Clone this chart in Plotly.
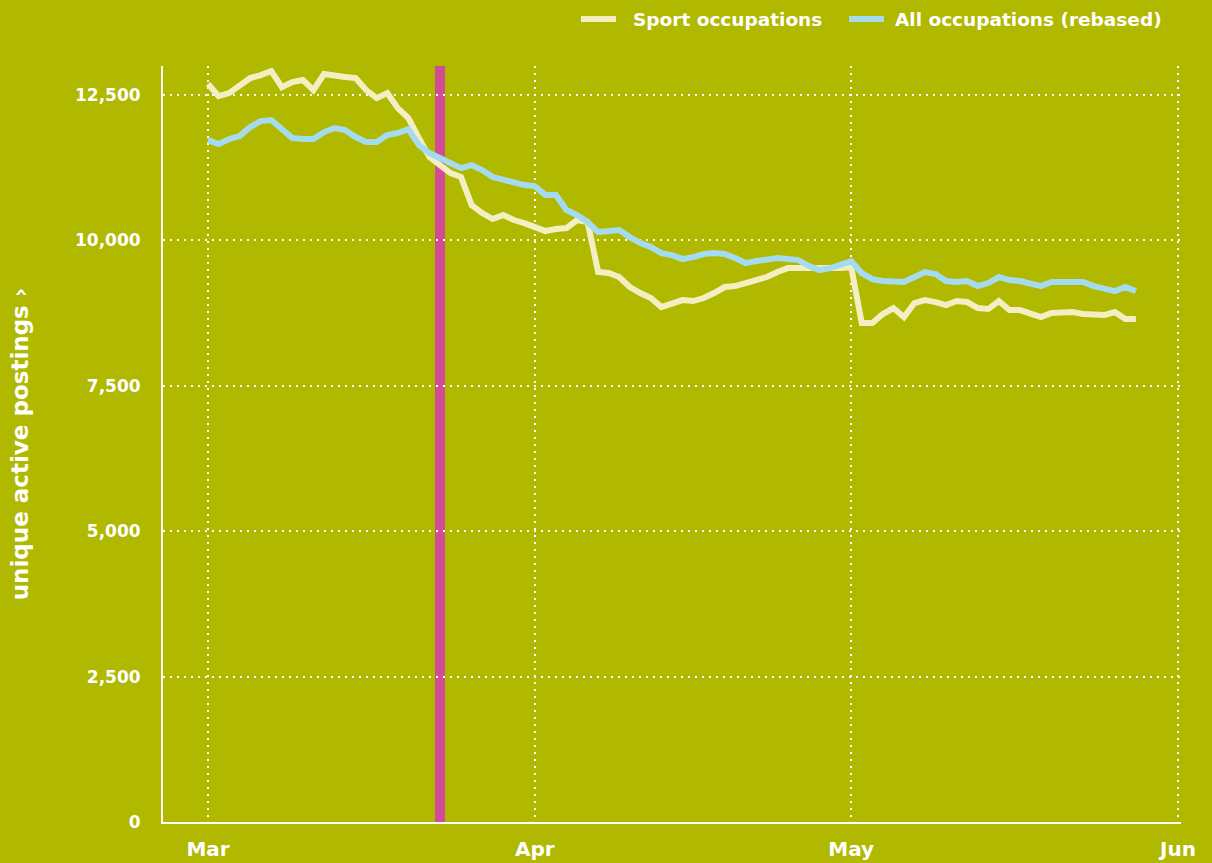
import pandas as pd
import plotly.graph_objects as go

dates = pd.date_range("2020-03-01", periods=89, freq="D")

sport = [
    12689, 12483, 12534, 12655, 12792, 12844, 12913, 12637, 12724, 12758,
    12586, 12861, 12827, 12810, 12792, 12586, 12448, 12534, 12276, 12104,
    11760, 11434, 11296, 11159, 11090, 10609, 10471, 10368, 10437, 10351, 10299,
    10230, 10162, 10196, 10213, 10351, 10316, 9457, 9440, 9371, 9199,
    9096, 9010, 8855, 8907, 8975, 8958, 9010, 9096, 9199, 9216,
    9268, 9336, 9371, 9457, 9525, 9525, 9525, 9508, 9508, 9525,
    9543, 8580, 8580, 8735, 8838, 8683, 8924, 8975, 8941, 8889,
    8958, 8941, 8838, 8821, 8958, 8803, 8803, 8752, 8683, 8752,
    8769, 8769, 8735, 8735, 8717, 8769, 8648, 8648,
]

all_occ = [
    11726, 11657, 11743, 11795, 11950, 12053, 12070, 11915, 11760, 11743,
    11743, 11864, 11933, 11898, 11778, 11692, 11692, 11812, 11847, 11915,
    11640, 11503, 11417, 11348, 11244, 11296, 11210, 11090, 11038, 10986, 10952,
    10935, 10781, 10781, 10523, 10437, 10316, 10144, 10162, 10179, 10058,
    9955, 9886, 9783, 9748, 9680, 9714, 9766, 9783, 9766, 9697,
    9611, 9646, 9663, 9697, 9680, 9663, 9560, 9491, 9525, 9594,
    9645, 9440, 9336, 9302, 9302, 9285, 9371, 9457, 9422, 9302,
    9285, 9302, 9216, 9268, 9371, 9319, 9302, 9268, 9216, 9285,
    9285, 9285, 9285, 9216, 9182, 9130, 9199, 9130,
]

series_names = ["Sport occupations", "All occupations (rebased)"]
month_ticks = ["2020-03-01", "2020-04-01", "2020-05-01", "2020-06-01"]
month_labels = ["Mar", "Apr", "May", "Jun"]
y_ticks = [0, 2500, 5000, 7500, 10000, 12500]
lockdown_date = "2020-03-23"

BG = "#b0b800"
SPORT_C = "#f3efc2"
ALL_C = "#a5dbee"
PINK = "#d14b96"
FONT = "DejaVu Sans"

# plot area geometry (px) used to place the legend in paper coordinates
W, H = 1212, 863
ML, MR, MT, MB = 163, 31, 66, 41
PW, PH = W - ML - MR, H - MT - MB


def px_x(px):
    return (px - ML) / PW


def px_y(py):
    return (H - MB - py) / PH


fig = go.Figure()
fig.add_trace(go.Scatter(x=dates, y=sport, mode="lines", name=series_names[0],
                         line=dict(color=SPORT_C, width=6), showlegend=False))
fig.add_trace(go.Scatter(x=dates, y=all_occ, mode="lines", name=series_names[1],
                         line=dict(color=ALL_C, width=6), showlegend=False))

fig.add_shape(type="line", x0=lockdown_date, x1=lockdown_date, xref="x",
              y0=0, y1=1, yref="paper", line=dict(color=PINK, width=10), layer="below")

# legend (swatch + label) placed at the top right: (name, colour, swatch start px, label start px)
legend_items = [(series_names[0], SPORT_C, 581, 631), (series_names[1], ALL_C, 849, 893)]
ly = px_y(19)
for name, color, sx, tx in legend_items:
    fig.add_shape(type="line", xref="paper", yref="paper",
                  x0=px_x(sx), x1=px_x(sx + 35), y0=ly, y1=ly,
                  line=dict(color=color, width=6))
    fig.add_annotation(text=name, xref="paper", yref="paper", x=px_x(tx), y=ly,
                       xanchor="left", yanchor="middle", showarrow=False,
                       font=dict(size=18.5, color="white", weight=700, family=FONT))

fig.update_layout(
    width=W, height=H,
    paper_bgcolor=BG, plot_bgcolor=BG,
    margin=dict(l=ML, r=MR, t=MT, b=MB, autoexpand=False),
    font=dict(family=FONT, color="white"),
    showlegend=False,
)

fig.update_xaxes(
    range=["2020-02-25 17:30", "2020-06-01 06:40"],
    tickvals=month_ticks, ticktext=month_labels,
    showgrid=True, gridcolor="white", griddash="2px,5px", gridwidth=1.8,
    showline=True, linecolor="white", linewidth=2, automargin=False,
    ticks="", tickfont=dict(size=20, color="white", weight=700, family=FONT),
    ticklabelstandoff=8, zeroline=False,
)
fig.update_yaxes(
    range=[0, 13000], tickvals=y_ticks, tickformat=",",
    showgrid=True, gridcolor="white", griddash="2px,5px", gridwidth=1.8,
    showline=True, linecolor="white", linewidth=2, zeroline=False, automargin=False,
    ticks="", tickfont=dict(size=17, color="white", weight=700, family=FONT),
    ticklabelstandoff=17,
    title=dict(text="unique active postings ›",
               font=dict(size=23, color="white", weight=700, family=FONT),
               standoff=40),
)

fig.write_html("out.html", config={"displayModeBar": False},
               post_script="document.body.style.margin='0px';document.body.style.overflow='hidden';")
